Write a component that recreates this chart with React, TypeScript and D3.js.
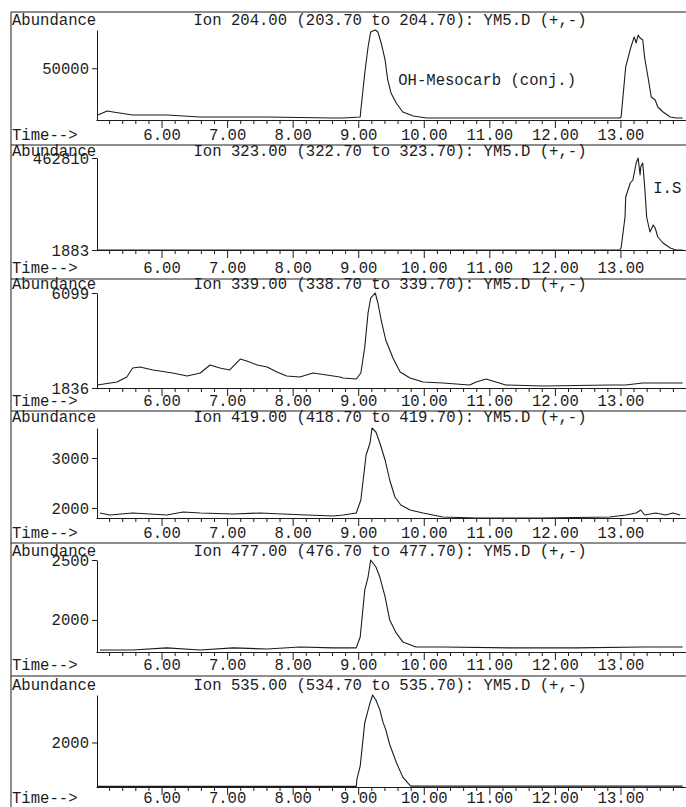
import React, { useEffect, useRef } from "react";
import * as d3 from "d3";

// ion chromatograms, values
const ions = ["204.00", "323.00", "339.00", "419.00", "477.00", "535.00"];
const ionLow = ["203.70", "322.70", "338.70", "418.70", "476.70", "534.70"];
const ionHigh = ["204.70", "323.70", "339.70", "419.70", "477.70", "535.70"];
const dataFile = "YM5.D (+,-)";
const majorTicks = [6, 7, 8, 9, 10, 11, 12, 13];
const yDomains = [
  [0, 87000],
  [1883, 462810],
  [1836, 6099],
  [1800, 3600],
  [1733, 2500],
  [1625, 2400],
];
const yTickValues = [[50000], [1883, 462810], [1836, 6099], [2000, 3000], [2000, 2500], [2000]];

const ion204 = [
  [5.03, 4830], [5.17, 8700], [5.26, 7740], [5.56, 4830], [6.08, 4830], [6.59, 2900],
  [7.61, 2900], [8.62, 1930], [8.77, 1930], [9.03, 2900], [9.04, 9670], [9.1, 45450],
  [9.15, 70590], [9.19, 85100], [9.26, 87000], [9.3, 85100], [9.35, 74460], [9.41, 58020],
  [9.45, 38680], [9.5, 26110], [9.58, 16440], [9.68, 7740], [9.84, 3870], [10.04, 1930],
  [11.0, 1930], [12.0, 1930], [12.99, 2000], [13.01, 2900], [13.08, 51250], [13.16, 70590],
  [13.21, 80300], [13.24, 74460], [13.27, 82000], [13.3, 79300], [13.34, 77360],
  [13.37, 59950], [13.42, 41580], [13.47, 22240], [13.53, 19340], [13.57, 12570],
  [13.65, 7740], [13.76, 2900], [13.85, 1930], [13.95, 1930],
];
const ion323 = [
  [5.02, 1883], [12.99, 1883], [13.01, 11900], [13.07, 167200], [13.08, 267400],
  [13.15, 337550], [13.19, 352600], [13.24, 437750], [13.27, 462810], [13.3, 377630],
  [13.31, 417710], [13.34, 437750], [13.37, 317510], [13.4, 167200], [13.45, 92060],
  [13.5, 127130], [13.53, 112100], [13.57, 67010], [13.65, 36950], [13.76, 11900],
  [13.85, 1883], [13.95, 1883],
];
const ion339 = [
  [5.02, 1970], [5.32, 2105], [5.47, 2330], [5.56, 2733], [5.67, 2778], [5.87, 2644],
  [6.17, 2509], [6.39, 2374], [6.59, 2509], [6.74, 2868], [6.89, 2733], [7.04, 2644],
  [7.2, 3137], [7.3, 3047], [7.46, 2868], [7.61, 2778], [7.76, 2554], [7.91, 2374],
  [8.11, 2330], [8.31, 2509], [8.52, 2419], [8.72, 2330], [8.77, 2285], [8.97, 2240],
  [9.04, 2509], [9.1, 3676], [9.15, 5201], [9.19, 5874], [9.26, 6099], [9.3, 5650],
  [9.35, 4887], [9.42, 3990], [9.53, 3182], [9.64, 2554], [9.79, 2285], [9.99, 2105],
  [10.29, 2060], [10.7, 1970], [10.8, 2105], [10.95, 2240], [11.1, 2105], [11.25, 1970],
  [11.82, 1926], [12.84, 1970], [13.08, 1970], [13.34, 2060], [13.95, 2060],
];
const ion419 = [
  [5.06, 1900], [5.21, 1860], [5.56, 1900], [6.08, 1860], [6.33, 1920], [6.59, 1900],
  [7.09, 1880], [7.5, 1900], [7.85, 1880], [8.22, 1860], [8.62, 1840], [8.77, 1860],
  [8.97, 1900], [9.04, 2160], [9.12, 3060], [9.18, 3300], [9.21, 3600], [9.27, 3520],
  [9.33, 3300], [9.41, 2960], [9.48, 2560], [9.56, 2220], [9.65, 2060], [9.79, 1960],
  [9.99, 1900], [10.29, 1820], [10.8, 1800], [11.82, 1800], [12.84, 1820], [13.08, 1860],
  [13.24, 1900], [13.31, 1960], [13.37, 1860], [13.54, 1900], [13.69, 1860], [13.8, 1900],
  [13.91, 1860],
];
const ion477 = [
  [5.06, 1750], [5.56, 1750], [6.08, 1767], [6.59, 1750], [7.09, 1767], [7.61, 1758],
  [8.11, 1775], [8.62, 1767], [8.97, 1767], [9.03, 1858], [9.1, 2250], [9.15, 2358],
  [9.19, 2500], [9.27, 2442], [9.33, 2358], [9.41, 2192], [9.48, 2000], [9.58, 1892],
  [9.68, 1817], [9.88, 1775], [10.29, 1775], [11.31, 1767], [12.32, 1767], [13.34, 1775],
  [13.95, 1775],
];
const ion535 = [
  [5.02, 1630], [8.97, 1630], [8.98, 1692], [9.03, 1800], [9.1, 2167], [9.18, 2333],
  [9.22, 2400], [9.27, 2358], [9.33, 2275], [9.38, 2167], [9.42, 2108], [9.48, 1983],
  [9.58, 1833], [9.68, 1708], [9.8, 1632], [13.95, 1632],
];
const traces = [ion204, ion323, ion339, ion419, ion477, ion535];

const labels = [
  { panel: 0, text: "OH-Mesocarb (conj.)", t: 9.61, v: 38700 },
  { panel: 1, text: "I.S", t: 13.5, v: 312500 },
];

// page layout (px)
const W = 686;
const H = 807;
const panelTop = [12, 145, 279, 411, 543, 676];
const headerY = [20, 151, 284, 417, 551, 685];
const axisTop = [30, 158, 293, 428, 560, 695];
const axisBase = [120, 250, 388, 518, 652, 787];
const timeY = [135, 268, 401, 533, 665, 798];
const FONT = "'Liberation Mono', 'Courier New', monospace";
const FS = 15.6;
const INK = "#1c1c1c";

const App = () => {
  const ref = useRef<SVGSVGElement>(null);

  useEffect(() => {
    const svg = d3.select(ref.current);
    svg.selectAll("*").remove();

    svg.append("rect").attr("width", W).attr("height", H).attr("fill", "#fff");

    const x = d3.scaleLinear().domain([5, 14]).range([96, 686]);
    const minor = d3.range(5.2, 13.9, 0.2).filter((d) => Math.abs(d - Math.round(d)) > 0.01);

    // frame
    svg.append("line").attr("x1", 11).attr("x2", 11).attr("y1", 12).attr("y2", H)
      .attr("stroke", INK).attr("stroke-width", 1);
    panelTop.forEach((yy) => {
      svg.append("line").attr("x1", 11).attr("x2", W).attr("y1", yy).attr("y2", yy)
        .attr("stroke", INK).attr("stroke-width", 1);
    });

    const text = (g, s, tx, ty, anchor = "start") =>
      g.append("text").attr("x", tx).attr("y", ty).attr("dy", "0.35em")
        .attr("text-anchor", anchor).attr("font-family", FONT).attr("font-size", FS)
        .attr("fill", INK).text(s);

    traces.forEach((data, i) => {
      const g = svg.append("g");
      const y = d3.scaleLinear().domain(yDomains[i]).range([axisBase[i], axisTop[i]]);

      text(g, "Abundance", 12, headerY[i]);
      text(g, `Ion ${ions[i]} (${ionLow[i]} to ${ionHigh[i]}): ${dataFile}`, 390, headerY[i], "middle");
      text(g, "Time-->", 12, timeY[i]);

      // y axis
      const ya = g.append("g").attr("transform", "translate(97,0)")
        .call(d3.axisLeft(y).tickValues(yTickValues[i]).tickSize(5).tickSizeOuter(0).tickFormat(d3.format("d")));
      ya.select(".domain").attr("stroke", INK);
      ya.selectAll("line").attr("stroke", INK);
      ya.selectAll("text").attr("font-family", FONT).attr("font-size", FS).attr("fill", INK).attr("x", -8);

      // x axis: minor then major ticks
      const xm = g.append("g").attr("transform", `translate(0,${axisBase[i]})`)
        .call(d3.axisBottom(x).tickValues(minor).tickSize(4).tickSizeOuter(0).tickFormat(() => ""));
      xm.select(".domain").attr("stroke", INK);
      xm.selectAll("line").attr("stroke", INK);
      const xM = g.append("g").attr("transform", `translate(0,${axisBase[i]})`)
        .call(d3.axisBottom(x).tickValues(majorTicks).tickSize(8).tickFormat(d3.format(".2f")));
      xM.select(".domain").remove();
      xM.selectAll("line").attr("stroke", INK);
      xM.selectAll("text").attr("font-family", FONT).attr("font-size", FS).attr("fill", INK)
        .attr("y", timeY[i] - axisBase[i]).attr("dy", "0.35em");

      const line = d3.line().x((d) => x(d[0])).y((d) => y(d[1]));
      g.append("path").datum(data).attr("d", line).attr("fill", "none")
        .attr("stroke", INK).attr("stroke-width", 1.1).attr("stroke-linejoin", "round");

      labels.filter((l) => l.panel === i).forEach((l) => text(g, l.text, x(l.t), y(l.v)));
    });
  }, []);

  return (
    <svg ref={ref} width={W} height={H} style={{ position: "absolute", left: 0, top: 0 }} />
  );
};

export default App;
